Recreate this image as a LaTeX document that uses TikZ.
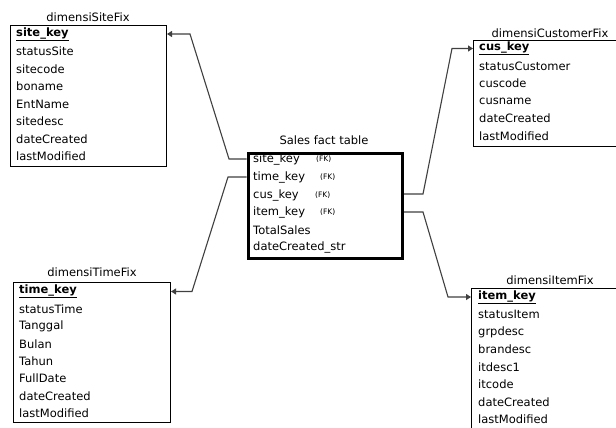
\documentclass[tikz,border=0pt]{standalone}
\usepackage{fontspec}
\setmainfont{DejaVu Sans}
\usetikzlibrary{arrows.meta,backgrounds}
\begin{document}
\begin{tikzpicture}[x=1pt,y=-1pt,
  tbl/.style={draw=black, line width=1pt, anchor=north west, inner sep=0pt, fill=white},
  facttbl/.style={draw=black, line width=3pt, anchor=north west, inner sep=0pt, fill=white},
  row/.style={anchor=west, inner sep=0pt, font=\fontsize{11.5}{13}\selectfont, text=black},
  ttl/.style={anchor=center, inner sep=0pt, font=\fontsize{11.5}{13}\selectfont, text=black},
  fk/.style={anchor=west, inner sep=0pt, font=\fontsize{7.5}{9}\selectfont, text=black},
  link/.style={draw=black!75, line width=1.1pt, -{Triangle[length=5pt,width=6pt]}}]
\useasboundingbox (0,0) rectangle (616,428);
\clip (0,0) rectangle (616,428);

% ---- dimensiSiteFix ----
\node[ttl] (sitet) at (88,17) {dimensiSiteFix};
\node[tbl, minimum width=156, minimum height=141] (site) at (10,25) {};
\node[row] (s1) at (16,34) {\underline{\textbf{site\_key}}};
\node[row] (s2) at (16,51.5) {statusSite};
\node[row] (s3) at (16,69) {sitecode};
\node[row] (s4) at (16,86.5) {boname};
\node[row] (s5) at (16,104) {EntName};
\node[row] (s6) at (16,121.5) {sitedesc};
\node[row] (s7) at (16,139) {dateCreated};
\node[row] (s8) at (16,156.5) {lastModified};

% ---- dimensiTimeFix ----
\node[ttl] (timet) at (92,272) {dimensiTimeFix};
\node[tbl, minimum width=157, minimum height=140] (time) at (13,282) {};
\node[row] (t1) at (19,291.5) {\underline{\textbf{time\_key}}};
\node[row] (t2) at (19,309) {statusTime};
\node[row] (t3) at (19,326.5) {Tanggal};
\node[row] (t4) at (19,344) {Bulan};
\node[row] (t5) at (19,361) {Tahun};
\node[row] (t6) at (19,378.5) {FullDate};
\node[row] (t7) at (19,396) {dateCreated};
\node[row] (t8) at (19,413) {lastModified};

% ---- dimensiCustomerFix ----
\node[ttl] (cust) at (550,33) {dimensiCustomerFix};
\node[tbl, minimum width=160, minimum height=106] (cus) at (473,40) {};
\node[row] (c1) at (479,48.5) {\underline{\textbf{cus\_key}}};
\node[row] (c2) at (479,66) {statusCustomer};
\node[row] (c3) at (479,83.5) {cuscode};
\node[row] (c4) at (479,101) {cusname};
\node[row] (c5) at (479,118.5) {dateCreated};
\node[row] (c6) at (479,136) {lastModified};

% ---- dimensiItemFix ----
\node[ttl] (itemt) at (550,280) {dimensiItemFix};
\node[tbl, minimum width=160, minimum height=160] (item) at (471,288) {};
\node[row] (i1) at (478,297) {\underline{\textbf{item\_key}}};
\node[row] (i2) at (478,314.5) {statusItem};
\node[row] (i3) at (478,332) {grpdesc};
\node[row] (i4) at (478,349.5) {brandesc};
\node[row] (i5) at (478,367) {itdesc1};
\node[row] (i6) at (478,384.5) {itcode};
\node[row] (i7) at (478,402) {dateCreated};
\node[row] (i8) at (478,419.5) {lastModified};

% ---- Sales fact table ----
\node[ttl] (factt) at (324,140) {Sales fact table};
\node[facttbl, minimum width=154, minimum height=105] (fact) at (246.5,151.5) {};
\node[row] (f1) at (253,159.5) {site\_key};
\node[fk]  (fk1) at (316,159.5) {(FK)};
\node[row] (f2) at (253,177) {time\_key};
\node[fk]  (fk2) at (320,177) {(FK)};
\node[row] (f3) at (253,195) {cus\_key};
\node[fk]  (fk3) at (315,195) {(FK)};
\node[row] (f4) at (253,212.5) {item\_key};
\node[fk]  (fk4) at (320,212.5) {(FK)};
\node[row] (f5) at (253,230) {TotalSales};
\node[row] (f6) at (253,247.5) {dateCreated\_str};

% ---- bend points ----
\coordinate (b1a) at (229,159);
\coordinate (b1b) at (190,34);
\coordinate (b2a) at (228,177);
\coordinate (b2b) at (192,291.5);
\coordinate (b3a) at (423,194);
\coordinate (b3b) at (452,48.5);
\coordinate (b4a) at (423,212);
\coordinate (b4b) at (448,297);

% ---- connectors (behind the tables) ----
\begin{pgfonlayer}{background}
\fill[white] (0,0) rectangle (616,428);
\draw[link] (fact.west |- b1a) -- (b1a) -- (b1b) -- (site.east |- b1b);
\draw[link] (fact.west |- b2a) -- (b2a) -- (b2b) -- (time.east |- b2b);
\draw[link] (fact.east |- b3a) -- (b3a) -- (b3b) -- (cus.west |- b3b);
\draw[link] (fact.east |- b4a) -- (b4a) -- (b4b) -- (item.west |- b4b);
\end{pgfonlayer}
\end{tikzpicture}
\end{document}
